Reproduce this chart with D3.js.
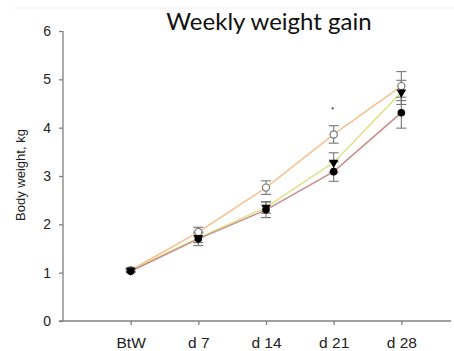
<!DOCTYPE html>
<html>
<head>
<meta charset="utf-8">
<script src="https://cdn.jsdelivr.net/npm/d3@7"></script>
<style>
  body { margin: 0; background: #fff; }
  svg { display: block; }
</style>
</head>
<body>
<svg width="454" height="351"></svg>
<script>
const svg = d3.select("svg");

// Datos
const categorias = ["BtW", "d 7", "d 14", "d 21", "d 28"];
const ticksY = [0, 1, 2, 3, 4, 5, 6];

const circuloAbierto = [1.05, 1.84, 2.76, 3.86, 4.86];
const errAbierto = [0.03, 0.1, 0.14, 0.18, 0.3];

const triangulo = [1.05, 1.72, 2.35, 3.28, 4.73];
const errTriangulo = [0.03, 0.1, 0.12, 0.2, 0.25];

const circuloLleno = [1.03, 1.7, 2.3, 3.09, 4.31];
const errLleno = [0.03, 0.14, 0.16, 0.2, 0.32];

const significancia = [{ cat: "d 21", y: 4.4 }];

const series = [
    { valores: circuloAbierto, err: errAbierto, color: "#f9bf8d", marca: "abierto" },
    { valores: triangulo, err: errTriangulo, color: "#dde388", marca: "triangulo" },
    { valores: circuloLleno, err: errLleno, color: "#c88c8c", marca: "lleno" }
];

// Escalas
const xScale = d3.scalePoint().domain(["", ...categorias, " "]).range([63, 469]);
const yScale = d3.scaleLinear().domain([0, 6]).range([321, 31]);

// Linea tenue superior
svg.append("line")
    .attr("x1", 14).attr("x2", 454).attr("y1", 8).attr("y2", 8)
    .attr("stroke", "#f0f0f0").attr("stroke-width", 1);

// Titulo
svg.append("text")
    .attr("x", 269).attr("y", 30)
    .attr("text-anchor", "middle")
    .attr("font-family", "Lato, 'Open Sans', sans-serif")
    .attr("font-size", "24px")
    .attr("fill", "#111")
    .text("Weekly weight gain");

// Etiqueta eje y
svg.append("text")
    .attr("transform", "translate(25,175) rotate(-90)")
    .attr("text-anchor", "middle")
    .attr("font-family", "'Liberation Sans', Arial, sans-serif")
    .attr("font-size", "13px")
    .attr("fill", "#222")
    .text("Body weight, kg");

// Eje y
const ejeY = svg.append("g")
    .attr("transform", "translate(63,0)")
    .call(d3.axisLeft(yScale).tickValues(ticksY).tickSize(4).tickPadding(8).tickFormat(d3.format("d")));

// Eje x
const ejeX = svg.append("g")
    .attr("transform", "translate(0,321)")
    .call(d3.axisBottom(xScale).tickValues(categorias).tickSize(4).tickPadding(12));

ejeX.select(".domain").remove();
svg.append("line")
    .attr("x1", 59).attr("x2", 451).attr("y1", 321).attr("y2", 321)
    .attr("stroke", "#808080").attr("stroke-width", 1.3);

[ejeY, ejeX].forEach(eje => {
    eje.selectAll(".domain").attr("stroke", "#808080").attr("stroke-width", 1.3);
    eje.selectAll(".tick line").attr("stroke", "#808080").attr("stroke-width", 1.3);
    eje.selectAll(".tick text")
        .attr("font-family", "'Liberation Sans', Arial, sans-serif")
        .attr("font-size", "14px")
        .attr("fill", "#222");
});
ejeX.selectAll(".tick text").attr("font-size", "15.5px");
ejeY.select(".domain").attr("d", "M0," + yScale(6) + "V" + yScale(0));

// Lineas
const linea = d3.line()
    .x((d, i) => xScale(categorias[i]))
    .y(d => yScale(d));

series.forEach(s => {
    svg.append("path")
        .datum(s.valores)
        .attr("d", linea)
        .attr("fill", "none")
        .attr("stroke", s.color)
        .attr("stroke-width", 1.5);
});

// Barras de error
series.forEach(s => {
    s.valores.forEach((v, i) => {
        const x = xScale(categorias[i]);
        const y1 = yScale(v + s.err[i]);
        const y2 = yScale(v - s.err[i]);
        const g = svg.append("g").attr("stroke", "#777").attr("stroke-width", 1.1);
        g.append("line").attr("x1", x).attr("x2", x).attr("y1", y1).attr("y2", y2);
        g.append("line").attr("x1", x - 5).attr("x2", x + 5).attr("y1", y1).attr("y2", y1);
        g.append("line").attr("x1", x - 5).attr("x2", x + 5).attr("y1", y2).attr("y2", y2);
    });
});

// Marcas
series.forEach(s => {
    s.valores.forEach((v, i) => {
        const x = xScale(categorias[i]);
        const y = yScale(v);
        if (s.marca === "abierto") {
            svg.append("circle").attr("cx", x).attr("cy", y).attr("r", 3.6)
                .attr("fill", "#fff").attr("stroke", "#777").attr("stroke-width", 1.2);
        } else if (s.marca === "lleno") {
            svg.append("circle").attr("cx", x).attr("cy", y).attr("r", 3.8)
                .attr("fill", "#000");
        } else {
            svg.append("path")
                .attr("d", d3.symbol().type(d3.symbolTriangle).size(40)())
                .attr("transform", "translate(" + x + "," + y + ") rotate(180)")
                .attr("fill", "#000");
        }
    });
});

// Asterisco de significancia
significancia.forEach(s => {
    svg.append("circle")
        .attr("cx", xScale(s.cat) - 1).attr("cy", yScale(s.y))
        .attr("r", 1.1).attr("fill", "#444");
});
</script>
</body>
</html>
